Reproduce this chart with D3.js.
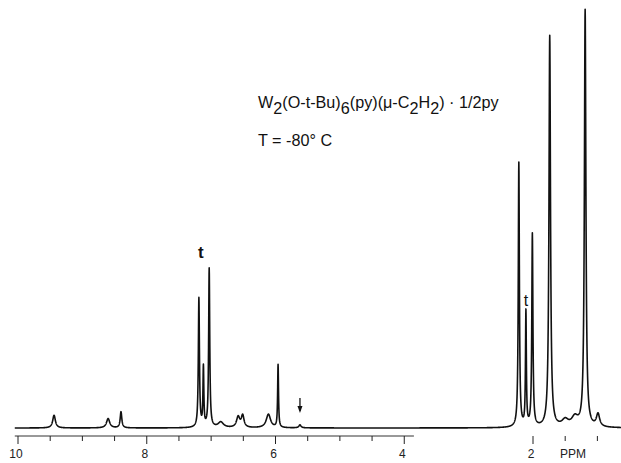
<!DOCTYPE html>
<html><head><meta charset="utf-8">
<script src="https://cdn.jsdelivr.net/npm/d3@7"></script>
<style>body{margin:0;background:#fff}svg{display:block}</style>
</head><body>
<script>
// peak list: chemical shift (ppm), relative intensity, half-width (ppm)
const peakShifts  = [9.44, 8.60, 8.40, 7.19, 7.12, 7.03, 6.85, 6.58, 6.51, 6.11, 5.96, 5.62, 2.22, 2.11, 2.01, 1.74, 1.50, 1.35, 1.19, 0.99];
const peakHeights = [3.0, 2.2, 3.8, 30.5, 14.0, 37.5, 1.3, 2.5, 2.8, 3.2, 14.8, 0.7, 62.5, 27.0, 45.5, 92.5, 1.6, 2.2, 98.5, 3.0];
const peakWidths  = [0.025, 0.03, 0.015, 0.010, 0.008, 0.010, 0.05, 0.03, 0.025, 0.04, 0.008, 0.02, 0.010, 0.008, 0.010, 0.014, 0.06, 0.06, 0.014, 0.03];
const tickLabels = ["10", "8", "6", "4", "2"];
const tickLabelPpm = [10, 8, 6, 4, 2];
const minorTicks = [10, 9.5, 9, 8.5, 8, 7.5, 7, 6.5, 6, 5.5, 5, 4.5, 4, 2, 1.5, 1];

const W = 621, H = 463;
const svg = d3.select("body").append("svg").attr("width", W).attr("height", H);
const x = d3.scaleLinear().domain([10, 2]).range([18, 533]);
const y = d3.scaleLinear().domain([0, 100]).range([428, 5]);

// spectrum trace (sum of Lorentzian lines from the peak list)
const grid = d3.range(10.05, -0.45, -0.002);
const spec = grid.map(p => {
  let s = 0;
  for (let i = 0; i < peakShifts.length; i++) {
    const g = peakWidths[i], d = p - peakShifts[i];
    s += peakHeights[i] * g * g / (g * g + d * d);
  }
  return [p, Math.min(s, 101)];
});
svg.append("path").datum(spec)
  .attr("d", d3.line().x(d => x(d[0])).y(d => y(d[1])))
  .attr("fill", "none").attr("stroke", "#111").attr("stroke-width", 1.6)
  .attr("stroke-linejoin", "round");

// axis
const axisY = 436;
svg.append("line").attr("x1", x(10.05)).attr("x2", x(3.85)).attr("y1", axisY).attr("y2", axisY)
  .attr("stroke", "#333").attr("stroke-width", 1);
svg.selectAll(".tk").data(minorTicks).enter().append("line")
  .attr("x1", d => x(d)).attr("x2", d => x(d))
  .attr("y1", axisY).attr("y2", d => (d % 2 === 0 ? axisY + 8 : axisY + 5))
  .attr("stroke", "#222").attr("stroke-width", 1);
const ff = "Liberation Sans, Arial, sans-serif";
svg.selectAll(".tl").data(tickLabelPpm).enter().append("text")
  .attr("x", d => x(d) - 2).attr("y", 458).attr("text-anchor", "middle")
  .attr("font-family", ff).attr("font-size", 12)
  .attr("fill", "#222").text((d, i) => tickLabels[i]);
svg.append("text").attr("x", 560).attr("y", 458)
  .attr("font-family", ff).attr("font-size", 12)
  .attr("fill", "#222").text("PPM");

// annotations
const title = svg.append("text").attr("x", 258).attr("y", 108)
  .attr("font-family", ff).attr("font-size", 16.2).attr("fill", "#111");
const parts = [["W", 0], ["2", 1], ["(O-t-Bu)", 0], ["6", 1], ["(py)(μ-C", 0], ["2", 1], ["H", 0], ["2", 1], [") · 1/2py", 0]];
let prevSub = 0;
parts.forEach(([t, sub]) => {
  const ts = title.append("tspan").text(t);
  const dy = (sub ? 6 : 0) - (prevSub ? 6 : 0);
  if (dy) ts.attr("dy", dy);
  prevSub = sub;
});
svg.append("text").attr("x", 258).attr("y", 146)
  .attr("font-family", ff).attr("font-size", 16.2).attr("fill", "#111").text("T = -80° C");

svg.append("text").attr("x", x(7.19) + 2).attr("y", 258).attr("text-anchor", "middle")
  .attr("font-family", ff).attr("font-size", 17).attr("font-weight", "bold").attr("fill", "#111").text("t");
svg.append("text").attr("x", x(2.11)).attr("y", 306).attr("text-anchor", "middle")
  .attr("font-family", ff).attr("font-size", 16).attr("fill", "#111").text("t");

// arrow marking the weak resonance
const ax = x(5.62);
svg.append("line").attr("x1", ax).attr("x2", ax).attr("y1", 398).attr("y2", 411)
  .attr("stroke", "#111").attr("stroke-width", 1.3);
svg.append("path").attr("d", `M${ax - 2.5},${406} L${ax},${413} L${ax + 2.5},${406} Z`).attr("fill", "#111");
</script>
</body></html>
